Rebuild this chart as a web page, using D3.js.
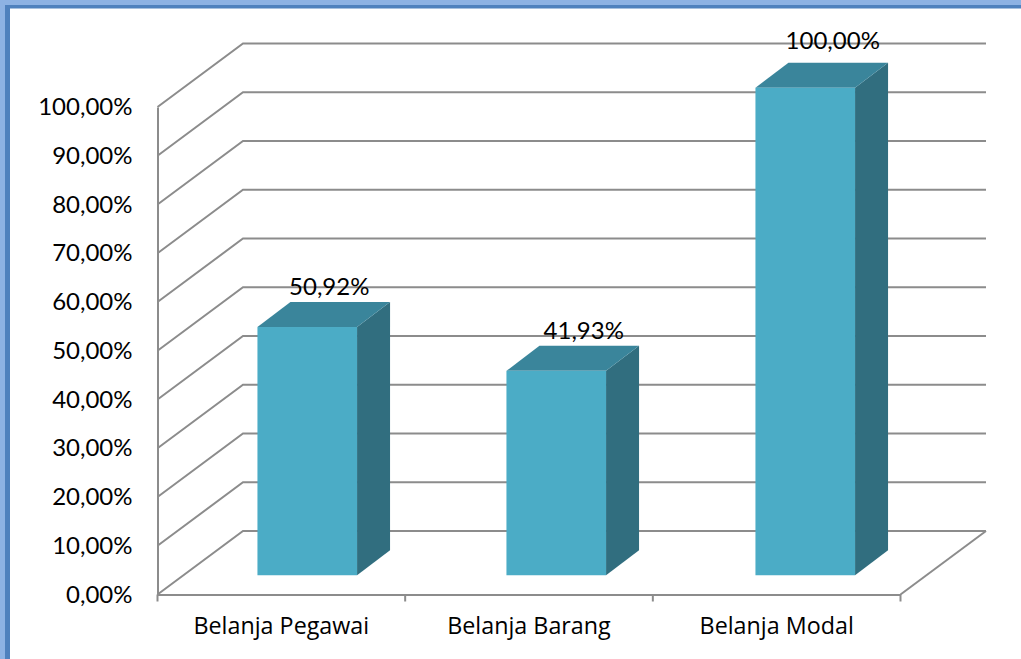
<!DOCTYPE html>
<html>
<head>
<meta charset="utf-8">
<script src="https://cdn.jsdelivr.net/npm/d3@7"></script>
<style>
html, body { margin: 0; padding: 0; background: #fff; }
svg { display: block; }
</style>
</head>
<body>
<svg id="chart"></svg>
<script>
var categories = ["Belanja Pegawai", "Belanja Barang", "Belanja Modal"];
var values = [50.92, 41.93, 100];
var valueLabels = ["50,92%", "41,93%", "100,00%"];
var yTicks = [0, 10, 20, 30, 40, 50, 60, 70, 80, 90, 100];

var dimensions = { width: 1021, height: 659 };

// front plane of the fake 3d box, and how far the back wall is shifted
var plot = { left: 157.5, right: 900.5, top: 107, bottom: 594.5 };
var wall = { dx: 85.5, dy: -63.5 };
var bar = { dx: 33, dy: -25 };
var fontName = "Lato, 'Open Sans', sans-serif";

var svg = d3.select("#chart")
    .attr("width", dimensions.width)
    .attr("height", dimensions.height)
    .attr("viewBox", [0, 0, dimensions.width, dimensions.height]);

// blue frame, only top and left
svg.append("path").attr("d", "M0 0H1021V5H5V659H0Z").attr("fill", "#8db2e3");
svg.append("path").attr("d", "M5 5H1021V8.5H10V659H5Z").attr("fill", "#4f81bd");

// categories on the axis
var xScale = d3.scaleBand()
    .domain(categories)
    .range([plot.left, plot.right]);

// bars are spaced a little wider than the axis slots in the original
var barScale = d3.scaleBand()
    .domain(categories)
    .range([plot.left - 1, plot.left + 746])
    .paddingInner(0.6)
    .paddingOuter(0.3);

var yScale = d3.scaleLinear()
    .domain([0, 100])
    .range([plot.bottom, plot.top]);

var gridColor = "#8c8c8c";

// back wall lines plus the slanted ones on the side wall
var grid = svg.append("g")
    .attr("fill", "none")
    .attr("stroke", gridColor)
    .attr("stroke-width", 2);

grid.selectAll(".wall")
    .data(yTicks)
    .enter()
    .append("path")
    .attr("class", "wall")
    .attr("d", d => "M" + plot.left + " " + yScale(d)
        + "L" + (plot.left + wall.dx) + " " + (yScale(d) + wall.dy)
        + "H" + (plot.right + wall.dx));

// floor edge on the right
grid.append("path")
    .attr("d", "M" + plot.right + " " + plot.bottom + "L" + (plot.right + wall.dx) + " " + (plot.bottom + wall.dy));

// y axis
var yAxis = svg.append("g")
    .attr("transform", `translate(${plot.left},0)`)
    .call(d3.axisLeft(yScale)
        .tickValues(yTicks)
        .tickSize(0)
        .tickPadding(25)
        .tickFormat(d => d3.format(".2f")(d).replace(".", ",") + "%"));

yAxis.select(".domain")
    .attr("stroke", gridColor)
    .attr("stroke-width", 2);

yAxis.selectAll("text")
    .attr("font-family", fontName)
    .attr("font-size", 24)
    .attr("fill", "#000");

// x axis
var xAxis = svg.append("g")
    .attr("transform", `translate(0,${plot.bottom})`)
    .call(d3.axisBottom(xScale).tickSize(0).tickPadding(23));

xAxis.select(".domain")
    .attr("stroke", gridColor)
    .attr("stroke-width", 2);

xAxis.selectAll("text")
    .attr("font-family", "'Open Sans', sans-serif")
    .attr("font-size", 23.3)
    .attr("fill", "#000");

// ticks sit between the categories, not on them
xAxis.selectAll(".slotTick")
    .data(d3.range(categories.length + 1))
    .enter()
    .append("line")
    .attr("class", "slotTick")
    .attr("x1", d => plot.left + d * xScale.step())
    .attr("x2", d => plot.left + d * xScale.step())
    .attr("y1", 0)
    .attr("y2", 7)
    .attr("stroke", gridColor)
    .attr("stroke-width", 2);

// bars sit halfway into the depth of the box
var shiftX = (wall.dx - bar.dx) / 2;
var shiftY = (wall.dy - bar.dy) / 2;

var bars = svg.selectAll(".bar")
    .data(categories.map((c, i) => ({ category: c, value: values[i], label: valueLabels[i], index: i })))
    .enter()
    .append("g")
    .attr("class", "bar")
    .attr("transform", `translate(${shiftX},${shiftY})`);

// side
bars.append("path")
    .attr("fill", "#316e7f")
    .attr("d", d => {
        var x = barScale(d.category) + barScale.bandwidth();
        return "M" + x + " " + yScale(d.value)
            + "l" + bar.dx + " " + bar.dy
            + "V" + (plot.bottom + bar.dy)
            + "L" + x + " " + plot.bottom + "Z";
    });

// top
bars.append("path")
    .attr("fill", "#3a859b")
    .attr("d", d => {
        var x = barScale(d.category);
        return "M" + x + " " + yScale(d.value)
            + "l" + bar.dx + " " + bar.dy
            + "h" + barScale.bandwidth()
            + "l" + (-bar.dx) + " " + (-bar.dy) + "Z";
    });

// front
bars.append("rect")
    .attr("fill", "#4bacc6")
    .attr("x", d => barScale(d.category))
    .attr("y", d => yScale(d.value))
    .attr("width", barScale.bandwidth())
    .attr("height", d => plot.bottom - yScale(d.value));

// labels go on top of everything, the first one sits a bit to the left
bars.append("text")
    .attr("x", d => barScale(d.category) + barScale.bandwidth() / 2 + bar.dx - 5.5 - (d.index == 0 ? 5.5 : 0))
    .attr("y", d => yScale(d.value) + bar.dy + (d.value == 100 ? -14 : -7))
    .attr("text-anchor", "middle")
    .attr("font-family", fontName)
    .attr("font-size", 24)
    .attr("fill", "#000")
    .text(d => d.label);
</script>
</body>
</html>
